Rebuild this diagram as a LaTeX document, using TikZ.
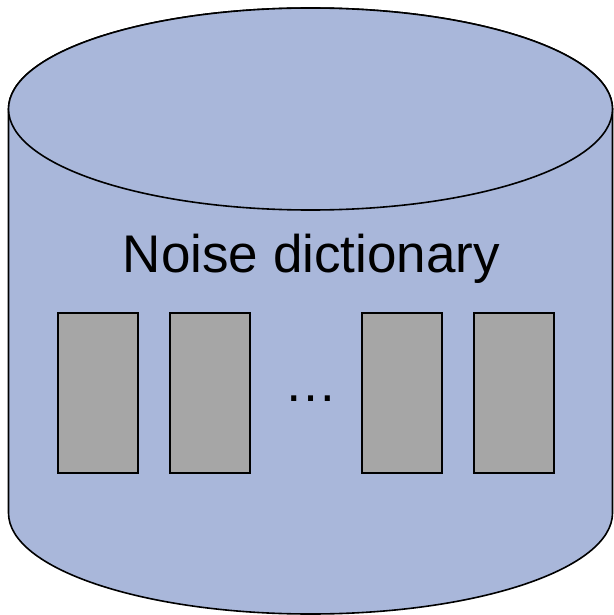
\documentclass[tikz,border=0pt]{standalone}
\usepackage{fontspec}
\setmainfont{Liberation Sans}
\begin{document}
\begin{tikzpicture}[x=1pt,y=-1pt,
  drum/.style={fill=drumblue,draw=black,line width=1.6pt},
  slot/.style={fill=slotgray,draw=black,line width=1.6pt,minimum width=80pt,minimum height=160pt,inner sep=0pt,anchor=north west},
  label/.style={font=\fontsize{53}{60}\selectfont,inner sep=0pt,anchor=base}]
\definecolor{drumblue}{HTML}{A9B7DA}
\definecolor{slotgray}{HTML}{A6A6A6}
\useasboundingbox (0,0) rectangle (613,615);
% cylinder body with rounded bottom (y axis points down)
\draw[drum] (8.5,109) -- (8.5,513) arc[start angle=180,end angle=0,x radius=302,y radius=101]
  -- (612.5,109) arc[start angle=0,end angle=-180,x radius=302,y radius=101] -- cycle;
% top lid
\draw[drum] (310.5,109) ellipse[x radius=302,y radius=101];
\node[label] (title) at (311.5,272) {Noise dictionary};
\node[slot] (s1) at (57,312) {};
\node[slot] (s2) at (169,312) {};
\node[slot] (s3) at (361,312) {};
\node[slot] (s4) at (473,312) {};
\node[label] (dots) at (311,401) {…};
\end{tikzpicture}
\end{document}
